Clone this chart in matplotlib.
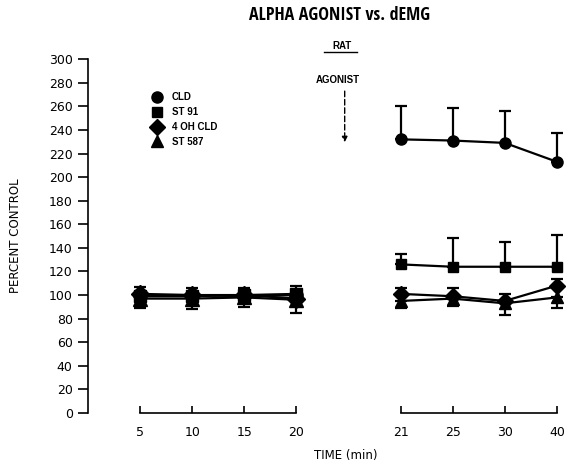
import numpy as np
import matplotlib
matplotlib.use('Agg')
import matplotlib.pyplot as plt
from matplotlib.lines import Line2D
from matplotlib import font_manager

# time points (min), before and after the agonist
times_pre = [5, 10, 15, 20]
times_post = [21, 25, 30, 40]

# percent control
cld_pre = [100, 100, 99, 100]
cld_post = [232, 231, 229, 213]
cld_err_pre = [7, 6, 7, 8]
cld_err_post = [28, 28, 27, 24]

st91_pre = [99, 99, 100, 101]
st91_post = [126, 124, 124, 124]
st91_err_post = [9, 24, 21, 27]

ohcld_pre = [101, 100, 100, 97]
ohcld_post = [101, 99, 95, 108]
ohcld_err_post = [5, 7, 6, 6]

st587_pre = [97, 97, 98, 96]
st587_post = [95, 97, 93, 98]
st587_err_pre = [8, 9, 8, 11]
st587_err_post = [6, 6, 10, 9]

labels = ['CLD', 'ST 91', '4 OH CLD', 'ST 587']
markers = ['o', 's', 'D', '^']
msizes = [8, 7.5, 8, 8]

# condensed face for the title if the system has one
names = {f.name for f in font_manager.fontManager.ttflist}
title_family = 'DejaVu Sans'
for cand in ['Liberation Sans Narrow', 'Open Sans Condensed', 'Roboto Condensed']:
    if cand in names:
        title_family = cand
        break

fig = plt.figure(figsize=(5.66, 4.65), dpi=100)
ax = fig.add_axes([0.1555, 0.1118, 0.8375, 0.761])

pos_pre = np.arange(len(times_pre))
pos_post = np.arange(len(times_post)) + len(times_pre) + 1

black = '#000000'
lw = 1.6

def draw(pos, vals, mk, ms, up=None, down=None):
    ax.plot(pos, vals, color=black, lw=lw, marker=mk, markersize=ms, zorder=3, clip_on=False)
    if up is not None or down is not None:
        lo = down if down is not None else [0] * len(vals)
        hi = up if up is not None else [0] * len(vals)
        ax.errorbar(pos, vals, yerr=[lo, hi], fmt='none', ecolor=black,
                    elinewidth=lw, capsize=4.3, capthick=lw, zorder=2)

# before agonist
draw(pos_pre, cld_pre, 'o', 9.5, up=cld_err_pre)
draw(pos_pre, st91_pre, 's', 9)
draw(pos_pre, ohcld_pre, 'D', 9.5)
draw(pos_pre, st587_pre, '^', 9.5, down=st587_err_pre)

# after agonist
draw(pos_post, cld_post, 'o', msizes[0], up=cld_err_post)
draw(pos_post, st91_post, 's', msizes[1], up=st91_err_post)
draw(pos_post, ohcld_post, 'D', msizes[2], up=ohcld_err_post)
draw(pos_post, st587_post, '^', msizes[3], down=st587_err_post)

ax.set_xlim(-1, 8.1)
ax.set_ylim(0, 300)

ax.spines['top'].set_visible(False)
ax.spines['right'].set_visible(False)
ax.spines['bottom'].set_visible(False)
ax.spines['left'].set_linewidth(1.2)

# two separate x axis pieces
for seg in (pos_pre, pos_post):
    ax.plot([seg[0], seg[-1]], [0, 0], color=black, lw=1.2, clip_on=False, zorder=1)

ax.set_xticks(np.concatenate([pos_pre, pos_post]))
ax.set_xticklabels([str(t) for t in times_pre + times_post])
ax.set_yticks(np.arange(0, 301, 20))
ax.tick_params(axis='x', direction='in', length=5, width=1.2, pad=9, labelsize=9)
ax.tick_params(axis='y', direction='out', length=7, width=1.2, pad=4, labelsize=9)

ax.set_ylabel('PERCENT CONTROL', fontsize=8.5, labelpad=19)
fig.text(0.61, 0.02, 'TIME (min)', fontsize=8.5, ha='center', va='center')

fig.text(0.60, 0.967, 'ALPHA AGONIST vs. dEMG', ha='center', va='center',
         fontsize=13 if title_family != 'DejaVu Sans' else 11.5,
         family=[title_family, 'DejaVu Sans'])
fig.text(0.605, 0.901, 'RAT', fontsize=7, fontweight='bold', ha='center', va='center',
         family=['Liberation Sans', 'DejaVu Sans'])
fig.add_artist(Line2D([0.573, 0.630], [0.888, 0.888], color=black, lw=1))
fig.text(0.597, 0.828, 'AGONIST', fontsize=7, fontweight='bold', ha='center', va='center',
         family=['Liberation Sans', 'DejaVu Sans'])
ax.annotate('', xy=(0.609, 0.688), xytext=(0.609, 0.81),
            xycoords='figure fraction', textcoords='figure fraction',
            arrowprops=dict(arrowstyle='-|>', color=black, lw=1, linestyle=(0, (4, 2)),
                            mutation_scale=8))

handles = [Line2D([], [], color=black, marker=m, markersize=s, linestyle='none')
           for m, s in zip(markers, msizes)]
leg = ax.legend(handles, labels, loc='upper left', bbox_to_anchor=(0.262, 0.812),
                bbox_transform=fig.transFigure, frameon=False, handlelength=0.8,
                handletextpad=1.1, labelspacing=0.5, borderpad=0,
                prop={'family': ['Liberation Sans', 'DejaVu Sans'], 'weight': 'bold', 'size': 7})

fig.savefig('out.png', dpi=100)
